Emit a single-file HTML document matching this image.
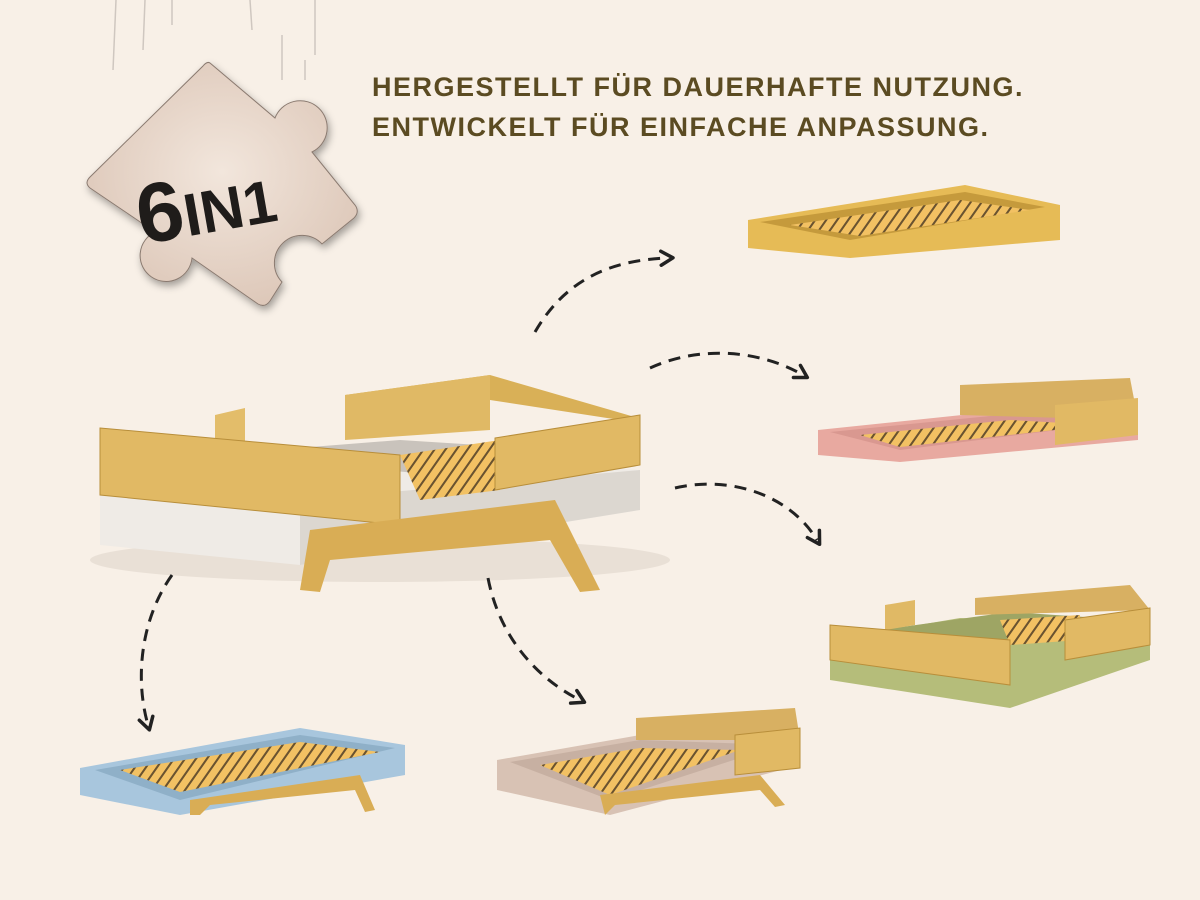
<!DOCTYPE html>
<html><head><meta charset="utf-8"><style>
html,body{margin:0;padding:0;background:#f8f0e7;}
svg{display:block}
.t{font-family:"Liberation Sans",sans-serif;font-weight:bold;fill:#5b4b22;font-size:27px;letter-spacing:1.5px}
</style></head><body>
<svg width="1200" height="900" viewBox="0 0 1200 900" xmlns="http://www.w3.org/2000/svg">
<defs>
<pattern id="sl" width="11" height="10" patternUnits="userSpaceOnUse" patternTransform="skewX(-35)">
<rect width="11" height="10" fill="#f2c163"/><rect x="0" width="2.5" height="10" fill="#6a5330"/></pattern>
<marker id="ah" markerWidth="18" markerHeight="18" refX="9" refY="9" orient="auto" markerUnits="userSpaceOnUse" viewBox="0 0 18 18">
<path d="M2,2 L14,9 L2,16" fill="none" stroke="#222" stroke-width="3.5" stroke-linejoin="round" stroke-linecap="round"/></marker>
<filter id="sh"><feDropShadow dx="2" dy="4" stdDeviation="4" flood-opacity="0.35"/></filter>
<radialGradient id="pg" cx="0.5" cy="0.45" r="0.6"><stop offset="0" stop-color="#f2e6dc"/><stop offset="1" stop-color="#dcc6b7"/></radialGradient>
</defs>
<rect width="1200" height="900" fill="#f8f0e7"/>
<g stroke="#cfc7c0" stroke-width="1.5">
<line x1="116" y1="0" x2="113" y2="70"/><line x1="145" y1="0" x2="143" y2="50"/><line x1="172" y1="0" x2="172" y2="25"/>
<line x1="250" y1="0" x2="252" y2="30"/><line x1="282" y1="35" x2="282" y2="80"/><line x1="315" y1="0" x2="315" y2="55"/>
<line x1="305" y1="60" x2="305" y2="80"/>
</g>
<path filter="url(#sh)" fill="url(#pg)" stroke="#8a7a70" stroke-width="1" d="M210,63 L275,118 A27,27 0 1,1 312,152 L355,205 Q360,212 354,218 L322,244 A24,24 0 1,0 282,282 L270,301 Q265,308 258,304 L192,258 A26,26 0 1,1 155,232 L90,188 Q84,183 90,177 L203,66 Q207,61 210,63 Z"/>
<text x="135" y="232" transform="rotate(-10 210 200)" font-family="Liberation Sans,sans-serif" font-weight="bold" fill="#1f1c1a" font-size="84">6<tspan font-size="60">IN1</tspan></text>
<text class="t" x="372" y="96">HERGESTELLT FÜR DAUERHAFTE NUTZUNG.</text>
<text class="t" x="372" y="136">ENTWICKELT FÜR EINFACHE ANPASSUNG.</text>

<ellipse cx="380" cy="560" rx="290" ry="22" fill="#e9e0d6"/>
<polygon points="100,480 260,448 640,470 640,510 300,565 100,545" fill="#efebe6"/>
<polygon points="300,500 640,470 640,510 300,565" fill="#dcd7d0"/>
<polygon points="210,455 400,440 560,450 440,475" fill="#c9c3bc"/>
<polygon points="400,455 500,440 500,490 420,500" fill="url(#sl)"/>
<polygon points="345,395 490,375 638,418 620,420 490,400 345,410" fill="#d9b057"/>
<polygon points="345,395 490,375 490,430 345,440" fill="#e0b965"/>
<polygon points="215,415 245,408 245,450 215,455" fill="#e3bd6a"/>
<polygon points="100,428 400,455 400,525 100,495" fill="#e1b964" stroke="#b88e3a" stroke-width="1"/>
<polygon points="495,438 640,415 640,465 495,490" fill="#e1b964" stroke="#b88e3a" stroke-width="1"/>
<polygon points="310,530 555,500 600,590 580,592 550,540 330,560 320,592 300,590" fill="#d9ad55"/>
<g fill="none" stroke="#222" stroke-width="3" stroke-dasharray="12 8" marker-end="url(#ah)">
<path d="M535,332 C565,280 610,260 668,258"/>
<path d="M650,368 C700,345 760,350 803,375"/>
<path d="M675,488 C730,475 790,495 817,540"/>
<path d="M172,575 C140,620 135,680 148,725"/>
<path d="M488,578 C500,640 540,680 580,700"/>
</g>
<polygon points="748,220 965,185 1060,205 1060,240 850,258 748,248" fill="#e6bb56"/>
<polygon points="760,222 965,192 1045,207 850,240" fill="#c59a3c"/>
<polygon points="790,225 960,200 1030,210 860,236" fill="url(#sl)"/>
<polygon points="818,430 1010,410 1138,420 1138,440 900,462 818,455" fill="#e8a9a0"/>
<polygon points="830,432 1010,414 1120,422 900,450" fill="#d99890"/>
<polygon points="860,435 1010,420 1100,425 900,447" fill="url(#sl)"/>
<polygon points="960,385 1130,378 1138,420 960,415" fill="#d8b062"/>
<polygon points="1055,405 1138,398 1138,435 1055,445" fill="#e1b964"/>
<polygon points="830,640 960,618 1150,625 1150,660 1010,708 830,680" fill="#b5bd7a"/>
<polygon points="880,630 1010,612 1130,620 990,645" fill="#9ea564"/>
<polygon points="1000,620 1080,615 1080,640 1010,645" fill="url(#sl)"/>
<polygon points="885,605 915,600 915,625 885,630" fill="#e0b965"/>
<polygon points="975,598 1130,585 1150,610 975,615" fill="#d8b062"/>
<polygon points="830,625 1010,640 1010,685 830,660" fill="#e1b964" stroke="#b88e3a"/>
<polygon points="1065,620 1150,608 1150,645 1065,660" fill="#e1b964" stroke="#b88e3a"/>
<polygon points="80,768 300,728 405,745 405,775 180,815 80,795" fill="#a8c6dd"/>
<polygon points="95,770 300,735 395,748 180,800" fill="#8fb0c8"/>
<polygon points="120,770 300,742 380,752 180,792" fill="url(#sl)"/>
<polygon points="190,800 360,775 375,810 365,812 355,790 210,805 200,815 190,815" fill="#d9ad55"/>
<polygon points="497,760 640,735 800,740 800,765 610,815 497,790" fill="#d8c2b4"/>
<polygon points="510,762 640,740 780,745 610,800" fill="#c7b0a2"/>
<polygon points="540,765 640,748 740,750 610,795" fill="url(#sl)"/>
<polygon points="636,718 795,708 800,740 636,740" fill="#d8b062"/>
<polygon points="735,735 800,728 800,768 735,775" fill="#e1b964" stroke="#b88e3a"/>
<polygon points="600,795 760,775 785,805 775,807 760,790 615,805 605,815" fill="#d9ad55"/>
</svg>
</body></html>
